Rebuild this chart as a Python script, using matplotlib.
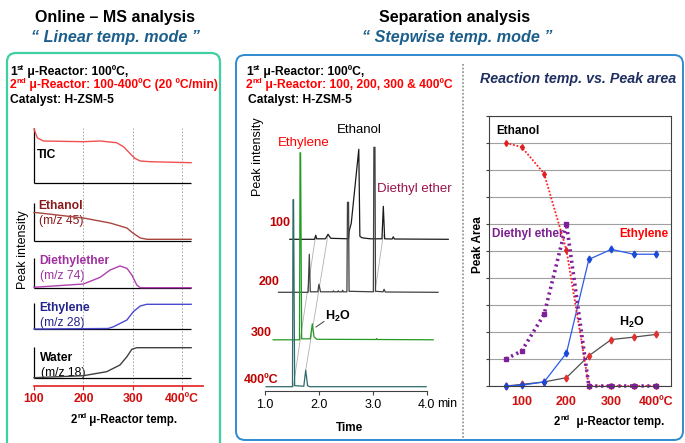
import numpy as np
import matplotlib
matplotlib.use("Agg")
import matplotlib.pyplot as plt
from matplotlib.patches import FancyBboxPatch

plt.rcParams['font.family'] = ['Liberation Sans', 'DejaVu Sans']
plt.rcParams['mathtext.fontset'] = 'custom'
plt.rcParams['mathtext.rm'] = 'Liberation Sans'
plt.rcParams['mathtext.it'] = 'Liberation Sans:italic'
plt.rcParams['mathtext.bf'] = 'Liberation Sans:bold'

W, H = 685, 443

# ---------- online MS (linear temp. mode): temp (C) vs signal above own baseline
tic_temp = [100, 103, 107, 119, 200, 234, 267, 281, 294, 304, 315, 335, 418]
tic_sig = [54, 50, 45, 42, 41.3, 42, 40.3, 36.3, 29.7, 24.7, 22, 21.3, 20.3]
etoh_temp = [100, 106, 200, 254, 288, 300, 315, 329, 418]
etoh_sig = [28.5, 28.3, 23, 18, 13, 8, 3, 1.7, 1.7]
dee_temp = [100, 200, 234, 254, 274, 288, 298, 308, 315, 418]
dee_sig = [0.7, 4, 10.7, 18, 22, 19.7, 13, 3, 0.3, 0.3]
c2h4_temp = [100, 250, 261, 288, 301, 315, 328, 418]
c2h4_sig = [0, 0.5, 2.3, 9, 17.3, 23, 24.7, 24.7]
water_temp = [100, 200, 247, 274, 288, 298, 308, 418]
water_sig = [0.3, 2.3, 6.3, 13, 21.3, 28.7, 30.3, 30.3]
ms_ticks = [100, 200, 300, 400]
ms_ticklabels = ['100', '200', '300', '400ºC']

# ---------- chromatograms (stepwise temp. mode): time (min) vs intensity
t100 = [1.46, 1.92, 1.94, 1.96, 2.12, 2.17, 2.22, 2.55, 2.56, 2.60, 2.74, 2.76, 2.80,
        2.95, 3.17, 3.195, 3.22, 3.36, 3.38, 3.40, 4.40]
i100 = [0, 0, 4, 0.5, 0.5, 5, 1, 0.5, 8, 16, 90, 3, 1.5,
        0.5, 0.5, 33, 0.5, 0.3, 2.5, 0.3, 0]
t200 = [1.25, 1.80, 1.822, 1.84, 1.98, 2.00, 2.03, 2.26, 2.27, 2.28, 2.35, 2.36, 2.37,
        2.43, 2.44, 2.45, 2.52, 2.53, 2.55, 2.56, 3.01, 3.02, 3.04, 3.05, 3.19, 3.21, 3.23, 4.21]
i200 = [0, 0, 38, 0.5, 0.5, 8, 0.5, 0.5, 1.5, 0.5, 0.5, 1.5, 0.5,
        0.5, 2, 0.5, 0.5, 90, 90, 1, 0.5, 145, 145, 1, 0.5, 3, 0.3, 0]
t300 = [1.15, 1.64, 1.65, 1.66, 1.68, 1.84, 1.878, 1.91, 1.96, 3.06, 3.07, 3.08, 4.12]
i300 = [0, 0, 187, 187, 1, 1, 16, 3, 0.5, 0.3, 1.2, 0.3, 0]
t400 = [1.02, 1.51, 1.52, 1.53, 1.55, 1.72, 1.755, 1.79, 1.83, 3.99]
i400 = [0, 0, 187, 187, 1, 0.5, 16.5, 1, 0, 0]
gc_labels = ['100', '200', '300', '400ºC']
gc_ticks = [1.0, 2.0, 3.0, 4.0]
gc_ticklabels = ['1.0', '2.0', '3.0', '4.0']

# ---------- reaction temp vs peak area
area_temp = [65, 100, 150, 200, 250, 300, 350, 400]
etoh_area = [9.0, 8.85, 7.87, 5.03, 0.0, 0.0, 0.0, 0.0]
dee_area = [1.0, 1.3, 2.65, 6.0, 0.0, 0.0, 0.0, 0.0]
c2h4_area = [0.0, 0.03, 0.15, 1.22, 4.69, 5.06, 4.88, 4.88]
h2o_area = [0.0, 0.06, 0.15, 0.31, 1.12, 1.72, 1.81, 1.91]
area_ticks = [100, 200, 300, 400]
area_ticklabels = ['100', '200', '300', '400ºC']


fig = plt.figure(figsize=(W / 100, H / 100), dpi=100)
renderer = fig.canvas.get_renderer()


def px_axes(x0, y0, x1, y1):
    a = fig.add_axes([x0 / W, 1 - y1 / H, (x1 - x0) / W, (y1 - y0) / H])
    a.patch.set_alpha(0)
    return a


bg = fig.add_axes([0, 0, 1, 1])
bg.set_xlim(0, W)
bg.set_ylim(H, 0)
bg.axis('off')


def chain(x, y, parts, size, color='black', center=False):
    """write text pieces left to right; ('st', True) is a superscript piece"""
    objs = []
    cx = x
    for txt, sup in parts:
        fs = size * 0.65 if sup else size
        dy = -size * 0.45 if sup else 0
        t = bg.text(cx, y + dy, txt, ha='left', va='center', fontsize=fs,
                    fontweight='bold', color=color)
        cx += t.get_window_extent(renderer).width
        objs.append(t)
    if center:
        shift = (cx - x) / 2
        for t in objs:
            px, py = t.get_position()
            t.set_position((px - shift, py))


# frames
bg.add_patch(FancyBboxPatch((7, 53), 213, 400, boxstyle="round,pad=0,rounding_size=9",
                            fc='none', ec='#3fcfa2', lw=1.6))
bg.add_patch(FancyBboxPatch((236, 55), 447, 385, boxstyle="round,pad=0,rounding_size=9",
                            fc='none', ec='#2f8bd0', lw=1.4))
bg.plot([463.5, 463.5], [64, 440], color='#9a9a9a', lw=1.3, ls=(0, (1, 1)))

# titles
bg.text(115, 17, 'Online – MS analysis', ha='center', va='center', fontsize=11.5, fontweight='bold')
bg.text(116, 37, '“ Linear temp. mode ”', ha='center', va='center', fontsize=11.6,
        fontweight='bold', style='italic', color='#1b5e8c')
bg.text(455, 17, 'Separation analysis', ha='center', va='center', fontsize=11.5, fontweight='bold')
bg.text(457, 37, '“ Stepwise temp. mode ”', ha='center', va='center', fontsize=11.6,
        fontweight='bold', style='italic', color='#1b5e8c')

hs = 8.7
chain(10, 72, [('1', False), ('st', True), (' μ-Reactor: 100ºC,', False)], hs)
chain(10, 85, [('2', False), ('nd', True), (' μ-Reactor: 100-400ºC (20 ºC/min)', False)], hs,
      color='#ff0000')
bg.text(10, 100, 'Catalyst: H-ZSM-5', ha='left', va='center', fontsize=hs, fontweight='bold')
chain(246, 72, [('1', False), ('st', True), (' μ-Reactor: 100ºC,', False)], hs)
chain(246, 85, [('2', False), ('nd', True), (' μ-Reactor: 100, 200, 300 & 400ºC', False)], hs,
      color='#ff0000')
bg.text(248, 100, 'Catalyst: H-ZSM-5', ha='left', va='center', fontsize=hs, fontweight='bold')

# ---------- left: online MS
ms = px_axes(34, 125, 203, 386)
ms.set_xlim(100, 442)
ms.set_ylim(0, 261)
traces = [
    (tic_temp, tic_sig, 203, 55, '#f05050'),
    (etoh_temp, etoh_sig, 145, 38, '#a8453e'),
    (dee_temp, dee_sig, 98, 30, '#b040b0'),
    (c2h4_temp, c2h4_sig, 57, 26, '#4a4ad0'),
    (water_temp, water_sig, 8, 31, '#404040'),
]
ms.vlines([200, 300, 400], 0, 258, colors='#9a9a9a', linestyles=(0, (2, 2)), lw=0.6, zorder=0)
for tx, sig, base, axh, col in traces:
    ms.hlines(base, 100, 418, color='black', lw=0.9, clip_on=False)
    ms.vlines(100, base, base + axh, color='black', lw=0.9, clip_on=False)
    ms.plot(tx, np.array(sig) + base, color=col, lw=1.0, clip_on=False)
for s in ['top', 'right', 'left']:
    ms.spines[s].set_visible(False)
ms.spines['bottom'].set_color('#e02020')
ms.spines['bottom'].set_linewidth(1.2)
ms.set_yticks([])
ms.set_xticks(ms_ticks)
ms.set_xticklabels(ms_ticklabels, fontweight='bold', fontsize=8.8)
ms.tick_params(axis='x', colors='#e02020', length=3, pad=2)
for lab in ms.get_xticklabels():
    lab.set_color('#d01010')

ms_lab = [('TIC', None, 37, 155, 'black'),
          ('Ethanol', '(m/z 45)', 38, 206, '#8b1a1a'),
          ('Diethylether', '(m/z 74)', 39, 261, '#a030a0'),
          ('Ethylene', '(m/z 28)', 39, 308, '#23238f'),
          ('Water', '(m/z 18)', 40, 358, 'black')]
for name, mz, x, y, col in ms_lab:
    bg.text(x, y, name, ha='left', va='center', fontsize=8.7, fontweight='bold', color=col)
    if mz:
        bg.text(x + 1, y + 15, mz, ha='left', va='center', fontsize=8.7, color=col)
bg.text(23, 250, 'Peak intensity', rotation=90, ha='center', va='center', fontsize=9)
chain(124, 420, [('2', False), ('nd', True), (' μ-Reactor temp.', False)], 8.3, center=True)

# ---------- middle: chromatograms
gc = px_axes(240, 140, 455, 391)
gc.set_xlim(0.536, 4.525)
gc.set_ylim(0, 251)
chroms = [(t100, i100, 151.7, '#1a1a1a'),
          (t200, i200, 98.7, '#404040'),
          (t300, i300, 51.2, '#239b23'),
          (t400, i400, 4.3, '#2f6b6b')]
# guide lines between corresponding peaks
gc.plot([1.525, 1.94], [4.3, 155.7], color='#b0b0b0', lw=0.6)
gc.plot([1.755, 2.17], [20.8, 156.7], color='#b0b0b0', lw=0.6)
gc.plot([3.04, 3.195], [99, 156], color='#b0b0b0', lw=0.6)
for tt, ii, base, col in chroms:
    gc.plot(tt, np.array(ii) + base, color=col, lw=0.9)
for s in ['top', 'right', 'left']:
    gc.spines[s].set_visible(False)
gc.spines['bottom'].set_bounds(1.0, 4.0)
gc.spines['bottom'].set_color('#404040')
gc.set_yticks([])
gc.set_xticks(gc_ticks)
gc.set_xticklabels(gc_ticklabels, fontsize=9)
gc.tick_params(axis='x', length=3, pad=3, color='#404040')
bg.text(437, 404, 'min', ha='left', va='center', fontsize=9)
bg.text(350, 428, 'Time', ha='center', va='center', fontsize=8.5, fontweight='bold')
for lab, (x, y) in zip(gc_labels, [(290, 223), (280, 282), (272, 333), (278, 380)]):
    bg.text(x, y, lab, ha='right', va='center', fontsize=9, fontweight='bold', color='#c00000')
bg.text(258, 157, 'Peak intensity', rotation=90, ha='center', va='center', fontsize=9)
bg.text(278, 143, 'Ethylene', ha='left', va='center', fontsize=9.5, color='#ff0000')
bg.text(337, 130, 'Ethanol', ha='left', va='center', fontsize=9.5, color='black')
bg.text(377, 189, 'Diethyl ether', ha='left', va='center', fontsize=9.5, color='#99124a')
bg.text(325, 316, r'H$_\mathbf{2}$O', ha='left', va='center', fontsize=9, fontweight='bold')
bg.plot([316, 324], [327, 321.5], color='#404040', lw=0.7)

# ---------- right: peak area vs reaction temp
ra = px_axes(489, 116, 671, 386)
ra.set_xlim(27, 433.4)
ra.set_ylim(0, 10)
ra.set_yticks(range(11))
ra.set_yticklabels([])
ra.grid(axis='y', color='#a0a0a0', lw=0.8)
ra.set_axisbelow(True)
for s in ra.spines.values():
    s.set_color('#404040')
    s.set_linewidth(0.8)
ra.tick_params(axis='y', length=2, direction='out', color='#404040')
ra.set_xticks(area_ticks)
ra.set_xticklabels(area_ticklabels, fontsize=9, fontweight='bold', color='#d01010')
ra.tick_params(axis='x', length=0, pad=7)

ra.plot(area_temp, h2o_area, color='#505050', lw=0.9, marker='d', ms=3.5,
        mfc='#e03030', mec='#e03030', clip_on=False)
ra.plot(area_temp, c2h4_area, color='#2a5ce8', lw=0.9, marker='d', ms=3.5,
        mfc='#1a4ad8', mec='#1a4ad8', clip_on=False)
ra.plot(area_temp, etoh_area, color='#ff2020', lw=1.3, ls=(0, (1, 1)), marker='d', ms=3,
        mfc='#e02020', mec='#e02020', clip_on=False)
ra.plot(area_temp, dee_area, color='#7f1f9a', lw=2.6, ls=(0, (0.6, 1.0)), marker='s', ms=2.8,
        mfc='#7f1f9a', mec='#7f1f9a', clip_on=False)

bg.text(578, 79, 'Reaction temp. vs. Peak area', ha='center', va='center', fontsize=10.3,
        fontweight='bold', style='italic', color='#1f2f60')
bg.text(478, 245, 'Peak Area', rotation=90, ha='center', va='center', fontsize=8.5, fontweight='bold')
bg.text(496, 131, 'Ethanol', ha='left', va='center', fontsize=8.5, fontweight='bold')
bg.text(492, 234, 'Diethyl ether', ha='left', va='center', fontsize=8.5, fontweight='bold', color='#7b1f8f')
bg.text(619, 234, 'Ethylene', ha='left', va='center', fontsize=8.5, fontweight='bold', color='#ff0000')
bg.text(619, 322, r'H$_\mathbf{2}$O', ha='left', va='center', fontsize=9, fontweight='bold')
chain(609, 422, [('2', False), ('nd', True), ('  μ-Reactor temp.', False)], 8.3, center=True)

fig.savefig('out.png', dpi=100)
